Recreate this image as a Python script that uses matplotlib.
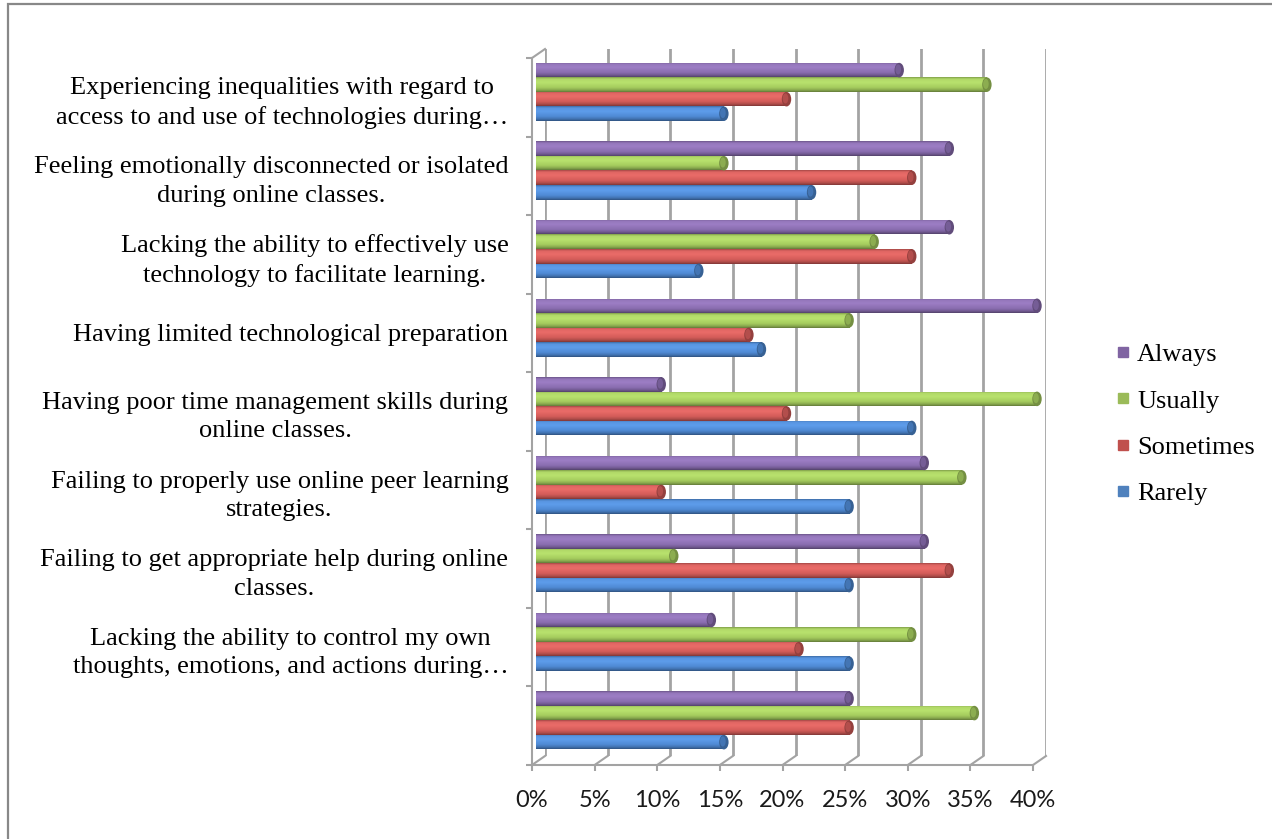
import matplotlib
matplotlib.use("Agg")
import matplotlib.pyplot as plt
import numpy as np
from matplotlib.patches import Ellipse, Rectangle
from matplotlib.lines import Line2D
from matplotlib.colors import to_rgb, LinearSegmentedColormap

# ---------------- data ----------------
categories = [
    "Experiencing inequalities with regard to\naccess to and use of technologies during\u2026",
    "Feeling emotionally disconnected or isolated\nduring online classes.",
    "Lacking the ability to effectively use\ntechnology to facilitate learning.",
    "Having limited technological preparation",
    "Having poor time management skills during\nonline classes.",
    "Failing to properly use online peer learning\nstrategies.",
    "Failing to get appropriate help during online\nclasses.",
    "Lacking the ability to control my own\nthoughts, emotions, and actions during\u2026",
    "",
]
series_names = ["Rarely", "Sometimes", "Usually", "Always"]
rarely = [15, 22, 13, 18, 30, 25, 25, 25, 15]
sometimes = [20, 30, 30, 17, 20, 10, 33, 21, 25]
usually = [36, 15, 27, 25, 40, 34, 11, 30, 35]
always = [29, 33, 33, 40, 10, 31, 31, 14, 25]
x_ticks = [0, 5, 10, 15, 20, 25, 30, 35, 40]
x_tick_labels = ["0%", "5%", "10%", "15%", "20%", "25%", "30%", "35%", "40%"]

bar_colors = ["#4F8AD4", "#D35C59", "#A5CC5E", "#8A6DB0"]
legend_colors = ["#4F81BD", "#C0504D", "#9BBB59", "#8064A2"]

# ---------------- layout ----------------
W, H = 1272, 839
DPI = 100
fig = plt.figure(figsize=(W / DPI, H / DPI), dpi=DPI)
fig.patch.set_facecolor("white")


def rect(l, t, r, b):
    return [l / W, 1 - b / H, (r - l) / W, (b - t) / H]


front_box = (532, 58, 1033, 765)
back_box = (545, 49, 1046, 756)
bar_box = (536, 55, 1037, 762)

grid_col = "#a3a3a3"
n = len(categories)

# back wall (gridlines)
ax_back = fig.add_axes(rect(*back_box))
ax_back.set_xlim(0, 40)
ax_back.set_ylim(n, 0)
ax_back.axis("off")
for t in x_ticks:
    ax_back.axvline(t, color=grid_col, lw=2.0, zorder=0)

# bars
ax = fig.add_axes(rect(*bar_box))
ax.patch.set_alpha(0)
ax.set_xlim(0, 40)
ax.set_ylim(n, 0)
ax.axis("off")

series = [rarely, sometimes, usually, always]
bh = 0.185
base_top = 0.10
y_idx = np.arange(n)
for si, (vals, col) in enumerate(zip(series, bar_colors)):
    # Always on top, Rarely at bottom
    pos = 3 - si
    yc = y_idx + base_top + bh * (pos + 0.5)
    cont = ax.barh(yc, vals, height=bh, color=col, edgecolor="none", zorder=1)
    c = np.array(to_rgb(col))
    stops = [
        (0.0, np.clip(c * 0.78, 0, 1)),
        (0.12, np.clip(c * 1.02 + 0.03, 0, 1)),
        (0.35, np.clip(c * 1.06 + 0.04, 0, 1)),
        (0.7, c),
        (0.88, np.clip(c * 0.82, 0, 1)),
        (1.0, np.clip(c * 0.6, 0, 1)),
    ]
    cmap = LinearSegmentedColormap.from_list("cyl%d" % si, [(p, tuple(v)) for p, v in stops])
    grad = np.linspace(0, 1, 64).reshape(-1, 1)
    for p in cont.patches:
        p.set_clip_on(False)
        x0, y0, w, h = p.get_x(), p.get_y(), p.get_width(), p.get_height()
        im = ax.imshow(grad, extent=(x0, x0 + w, y0 + h, y0), origin="upper",
                       cmap=cmap, aspect="auto", zorder=2, interpolation="bilinear")
        im.set_clip_path(p)
        cap = Ellipse((x0 + w, y0 + h / 2), width=0.75, height=h,
                      facecolor=tuple(np.clip(c * 0.7, 0, 1)), edgecolor="none", zorder=3,
                      clip_on=False)
        ax.add_patch(cap)
        cap_hi = Ellipse((x0 + w - 0.08, y0 + h * 0.45), width=0.45, height=h * 0.7,
                         facecolor=tuple(np.clip(c * 0.85, 0, 1)), edgecolor="none", zorder=3,
                         clip_on=False)
        ax.add_patch(cap_hi)
ax.set_xlim(0, 40)
ax.set_ylim(n, 0)

# front axes (spines, ticks, labels)
ax_f = fig.add_axes(rect(*front_box))
ax_f.patch.set_alpha(0)
ax_f.set_xlim(0, 40)
ax_f.set_ylim(n, 0)
for s in ["top", "right"]:
    ax_f.spines[s].set_visible(False)
for s in ["left", "bottom"]:
    ax_f.spines[s].set_color(grid_col)
    ax_f.spines[s].set_linewidth(1.5)
ax_f.set_xticks(x_ticks)
ax_f.set_xticklabels(x_tick_labels, fontfamily="Lato", fontsize=17, color="#1a1a1a")
ax_f.tick_params(axis="x", direction="out", length=4, width=1.5, color=grid_col, pad=14)
ax_f.set_yticks(np.arange(n + 1))
ax_f.set_yticklabels([])
ax_f.set_yticks(np.arange(n) + 0.5, minor=True)
ax_f.set_yticklabels(categories, minor=True, fontfamily="Liberation Serif",
                     fontsize=19, color="black", ha="right", multialignment="center",
                     linespacing=1.38)
ax_f.tick_params(axis="y", which="major", direction="out", length=4, width=1.5, color=grid_col)
ax_f.tick_params(axis="y", which="minor", length=0, pad=17)

# floor and corner slants connecting front and back planes
fig.canvas.draw()
for t in x_ticks:
    p1 = ax_f.transData.transform((t, n))
    p2 = ax_back.transData.transform((t, n))
    fig.add_artist(Line2D([p1[0], p2[0]], [p1[1], p2[1]], transform=None,
                          color=grid_col, lw=1.5, zorder=0))
p1 = ax_f.transData.transform((0, 0))
p2 = ax_back.transData.transform((0, 0))
fig.add_artist(Line2D([p1[0], p2[0]], [p1[1], p2[1]], transform=None,
                      color=grid_col, lw=1.5, zorder=0))

# legend
handles = [Line2D([], [], marker="s", linestyle="none", markersize=7.5,
                  markerfacecolor=legend_colors[i], markeredgecolor=legend_colors[i])
           for i in [3, 2, 1, 0]]
labels = [series_names[i] for i in [3, 2, 1, 0]]
fig.legend(handles, labels, loc="center left", bbox_to_anchor=(1116 / W, 1 - 424 / H),
           frameon=False, prop={"family": "Liberation Serif", "size": 19},
           handlelength=0.5, handletextpad=0.3, labelspacing=0.86,
           borderpad=0, borderaxespad=0)

# outer border (left and top edges visible)
fig.add_artist(Rectangle((8 / W, -20 / H), 1300 / W, 855 / H, transform=fig.transFigure,
                         fill=False, edgecolor="#888888", lw=1.6))

fig.savefig("out.png", dpi=DPI)
